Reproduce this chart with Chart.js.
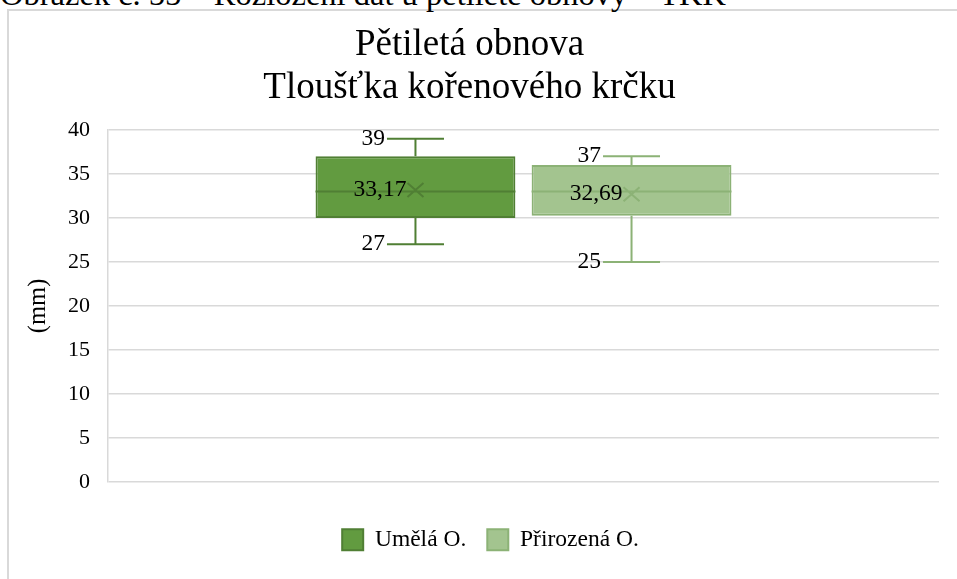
<!DOCTYPE html>
<html>
<head>
<meta charset="utf-8">
<script src="https://cdn.jsdelivr.net/npm/chart.js@4.4.0/dist/chart.umd.min.js"></script>
<style>
  html, body { margin: 0; padding: 0; background: #fff; overflow: hidden; }
  #wrap { position: relative; width: 957px; height: 579px; }
  #frame { position: absolute; left: 7px; top: 9px; width: 1000px; height: 700px;
           border: 2px solid #d9d9d9; box-sizing: border-box; }
  #caption { position: absolute; left: 0; top: -22px; white-space: nowrap;
             font: 32.5px/32px "Liberation Serif", serif; color: #000; }
  canvas { position: absolute; left: 0; top: 0; }
</style>
</head>
<body>
<div id="wrap">
  <div id="frame"></div>
  <div id="caption">Obrázek č. 55 – Rozložení dat u pětileté obnovy – TKK</div>
  <canvas id="box-chart" width="957" height="579"></canvas>
</div>
<script>
// data
var categories = ['Pětiletá obnova'];
var seriesNames = ['Umělá O.', 'Přirozená O.'];
var minValues = [27, 25];
var q1Values = [30, 30.25];
var medianValues = [33, 33];
var q3Values = [37, 36];
var maxValues = [39, 37];
var meanValues = [33.17, 32.69];

var fills = ['#629b40', '#a3c48f'];
var lines = ['#507f34', '#8cb276'];
var serif = '"Liberation Serif", "Times New Roman", serif';

// whiskers, median, mean marker and value labels on top of the floating bars
var boxExtras = {
  id: 'boxExtras',
  beforeInit: function (chart) {
    var fit = chart.legend.fit;
    chart.legend.fit = function () {
      fit.call(this);
      this.height = 72;
    };
  },
  afterLayout: function (chart) {
    // legend sits a little right of the middle in the original
    chart.legend.left += 21;
    chart.legend.right += 21;
  },
  afterDatasetsDraw: function (chart) {
    var ctx = chart.ctx;
    var y = chart.scales.y;
    var cap = 57;
    chart.data.datasets.forEach(function (ds, i) {
      var bar = chart.getDatasetMeta(i).data[0];
      var x = bar.x, w = bar.width;
      var yMin = y.getPixelForValue(minValues[i]);
      var yMax = y.getPixelForValue(maxValues[i]);
      var yQ1 = y.getPixelForValue(q1Values[i]);
      var yQ3 = y.getPixelForValue(q3Values[i]);
      var yMed = y.getPixelForValue(medianValues[i]);
      var yMean = y.getPixelForValue(meanValues[i]);

      ctx.save();
      ctx.strokeStyle = lines[i];
      ctx.lineWidth = 2;
      ctx.beginPath();
      ctx.moveTo(x, yQ3); ctx.lineTo(x, yMax);
      ctx.moveTo(x, yQ1); ctx.lineTo(x, yMin);
      ctx.moveTo(x - cap / 2, yMax); ctx.lineTo(x + cap / 2, yMax);
      ctx.moveTo(x - cap / 2, yMin); ctx.lineTo(x + cap / 2, yMin);
      ctx.moveTo(x - w / 2, yMed); ctx.lineTo(x + w / 2, yMed);
      ctx.moveTo(x - 8, yMean - 7); ctx.lineTo(x + 8, yMean + 7);
      ctx.moveTo(x - 8, yMean + 7); ctx.lineTo(x + 8, yMean - 7);
      ctx.stroke();

      ctx.fillStyle = '#000';
      ctx.font = '23.5px ' + serif;
      ctx.textAlign = 'right';
      ctx.textBaseline = 'middle';
      ctx.fillText(String(maxValues[i]), x - cap / 2 - 2, yMax);
      ctx.fillText(String(minValues[i]), x - cap / 2 - 2, yMin);
      ctx.fillText(meanValues[i].toFixed(2).replace('.', ','), x - 9, yMean);
      ctx.restore();
    });
  }
};

var ctx = document.getElementById('box-chart');
new Chart(ctx, {
  type: 'bar',
  data: {
    labels: categories,
    datasets: seriesNames.map(function (name, i) {
      return {
        label: name,
        data: [[q1Values[i], q3Values[i]]],
        backgroundColor: fills[i],
        borderColor: lines[i],
        borderWidth: 2,
        borderSkipped: false,
        categoryPercentage: 0.52,
        barPercentage: 0.925,
      };
    }),
  },
  options: {
    responsive: false,
    animation: false,
    layout: { padding: { left: 0, right: 18, top: 0, bottom: 0 } },
    scales: {
      x: {
        ticks: { display: false },
        grid: { display: false },
        border: { display: false },
        afterFit: function (s) { s.height = 25; },
      },
      y: {
        min: 0,
        max: 40,
        ticks: { stepSize: 5, padding: 18, color: '#000', font: { family: serif, size: 22 } },
        grid: { color: '#d9d9d9', lineWidth: 1.5, drawTicks: false },
        border: { display: true, color: '#d9d9d9', width: 1.5 },
        title: {
          display: true,
          text: '(mm)',
          color: '#000',
          font: { family: serif, size: 24.5 },
          padding: { top: 24, bottom: 0 },
        },
        afterFit: function (s) { s.width = 108; },
      },
    },
    plugins: {
      title: {
        display: true,
        text: ['Pětiletá obnova', 'Tloušťka kořenového krčku'],
        color: '#000',
        font: { family: serif, size: 37, weight: 'normal', lineHeight: 1.16 },
        padding: { top: 24, bottom: 20 },
      },
      legend: {
        display: true,
        position: 'bottom',
        labels: {
          boxWidth: 21,
          boxHeight: 21,
          padding: 21,
          color: '#000',
          font: { family: serif, size: 23.5 },
        },
      },
      tooltip: { enabled: false },
    },
  },
  plugins: [boxExtras],
});
</script>
</body>
</html>
